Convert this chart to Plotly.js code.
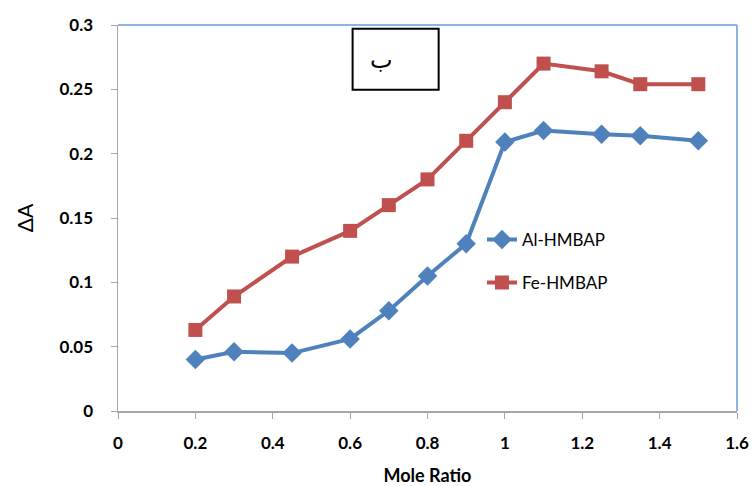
<!DOCTYPE html>
<html>
<head>
<meta charset="utf-8">
<script src="https://cdn.plot.ly/plotly-3.0.1.min.js"></script>
<style>html,body{margin:0;padding:0;background:#fff;}#chart{width:753px;height:486px;}</style>
</head>
<body>
<div id="chart"></div>
<script>
const moleRatio = [0.2, 0.3, 0.45, 0.6, 0.7, 0.8, 0.9, 1.0, 1.1, 1.25, 1.35, 1.5];
const alHMBAP = [0.040, 0.046, 0.045, 0.056, 0.078, 0.105, 0.130, 0.209, 0.218, 0.215, 0.214, 0.210];
const feHMBAP = [0.063, 0.089, 0.120, 0.140, 0.160, 0.180, 0.210, 0.240, 0.270, 0.264, 0.254, 0.254];
const xTicks = [0, 0.2, 0.4, 0.6, 0.8, 1, 1.2, 1.4, 1.6];
const yTicks = [0, 0.05, 0.1, 0.15, 0.2, 0.25, 0.3];
const seriesNames = ['Al-HMBAP', 'Fe-HMBAP'];
const panelLabel = 'ب';

const traces = [
  {x: moleRatio, y: alHMBAP, name: seriesNames[0], type: 'scatter', mode: 'lines+markers',
   legendgroup: 'a',
   line: {color: '#4F81BD', width: 4}, marker: {symbol: 'diamond', size: 15, color: '#4F81BD'}},
  {x: moleRatio, y: feHMBAP, name: seriesNames[1], type: 'scatter', mode: 'lines+markers',
   legendgroup: 'b',
   line: {color: '#C0504D', width: 4}, marker: {symbol: 'square', size: 14, color: '#C0504D'}}
];

const layout = {
  width: 753, height: 486,
  margin: {l: 118, r: 16, t: 25, b: 75},
  paper_bgcolor: '#fff', plot_bgcolor: '#fff',
  font: {family: 'Lato, "Open Sans", sans-serif', color: '#000'},
  showlegend: true,
  legend: {x: 0.588, y: 0.49, xanchor: 'left', yanchor: 'top', tracegroupgap: 18,
           font: {size: 17, family: 'Lato, sans-serif', color: '#000'}, bgcolor: 'rgba(0,0,0,0)'},
  xaxis: {range: [0, 1.6], tickvals: xTicks, ticktext: xTicks.map(String),
          showgrid: false, zeroline: false, showline: true, linecolor: '#A6A6A6', linewidth: 1.5,
          ticks: 'outside', ticklen: 6, tickcolor: '#A6A6A6', ticklabelstandoff: 10,
          tickfont: {size: 17, family: 'Lato, sans-serif', weight: 'bold', color: '#000'},
          title: {text: '<b>Mole Ratio</b>', font: {size: 18, family: 'Lato, sans-serif', color: '#000'}, standoff: 25}},
  yaxis: {range: [0, 0.3], tickvals: yTicks, ticktext: yTicks.map(String),
          showgrid: false, zeroline: false, showline: true, linecolor: '#A6A6A6', linewidth: 1.5,
          ticks: 'outside', ticklen: 6, tickcolor: '#A6A6A6', ticklabelstandoff: 14,
          tickfont: {size: 17, family: 'Lato, sans-serif', weight: 'bold', color: '#000'},
          title: {text: 'ΔA', font: {size: 21, family: 'Lato, sans-serif', color: '#000'}, standoff: 20}},
  shapes: [
    {type: 'line', xref: 'paper', yref: 'paper', x0: 0, x1: 1, y0: 1, y1: 1, line: {color: '#8EB4E3', width: 2}},
    {type: 'line', xref: 'paper', yref: 'paper', x0: 1, x1: 1, y0: 0, y1: 1, line: {color: '#8EB4E3', width: 2}},
    {type: 'rect', xref: 'paper', yref: 'paper', x0: 0.379, x1: 0.518, y0: 0.832, y1: 0.990, line: {color: '#000', width: 2}, fillcolor: '#fff'}
  ],
  annotations: [
    {xref: 'paper', yref: 'paper', x: 0.425, y: 0.952, text: panelLabel, showarrow: false,
     font: {size: 24, family: '"DejaVu Sans", sans-serif', color: '#000'}}
  ]
};

Plotly.newPlot('chart', traces, layout, {displayModeBar: false, staticPlot: true});
</script>
</body>
</html>
